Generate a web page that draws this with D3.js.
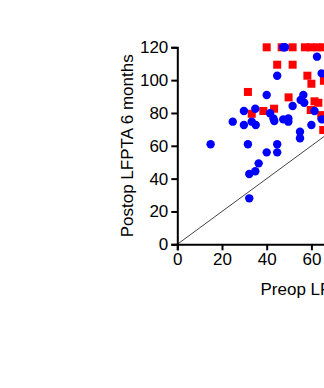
<!DOCTYPE html>
<html lang="en-US">
  <head>
    <meta charset="utf-8">
    <title>LFPTA preop vs postop</title>
    <style>
      body { margin: 0; background: white; overflow: hidden; }
      #my_dataviz text { font-family: Arial, "Liberation Sans", Helvetica, sans-serif; }
    </style>
  </head>
  <body>
  <script src="https://d3js.org/d3.v7.min.js"></script>
  <div id="my_dataviz"></div>
  <script>

    // data: [preop, postop 6 months]
    var redPoints = [
      [40,120],[46.7,120],[51.6,120],[57.1,120],[59.7,120],[62.6,120],[65.3,120],
      [44.7,109.4],[51.6,109.4],[58.2,102.7],[60,97.8],[65.6,99.6],
      [31.6,92.8],[49.8,89.5],[61.4,87.1],[63.1,86.2],
      [43.3,82.6],[38.5,81.2],[33.3,79.5],[59.7,81.8],[64.4,78.7],[65.3,69.6]
    ]
    var bluePoints = [
      [47.4,120],[48.2,120],[62.5,114.3],[64.6,104.1],[44.7,102.7],
      [40,90.9],[56.4,90.9],[55.2,87.9],[56.8,86.2],[51.6,84.2],
      [29.8,81.2],[34.9,82.6],[41.5,79.8],[33.3,74.7],[35.1,72.7],[29.8,72.7],[24.8,74.7],
      [43,76.7],[43.4,75.1],[47.4,76.1],[49.7,76.7],[49.7,74.7],
      [61.4,81.2],[64.6,76.1],[60,72.7],[54.9,68.6],[54.9,64.6],
      [14.9,60.9],[31.6,60.9],[44.7,60.9],[40,56],[44.7,56],
      [36.4,49.3],[34.9,44.5],[32.2,42.8],[32.2,28]
    ]
    var xTicks = [0, 20, 40, 60, 80, 100, 120]
    var yTicks = [0, 20, 40, 60, 80, 100, 120]
    var xTitle = "Preop LFPTA"
    var yTitle = "Postop LFPTA 6 months"

    var width = 324
        height = 388

    var svg = d3.select("#my_dataviz")
      .append("svg")
        .attr("width", width)
        .attr("height", height)

    // plot runs off the right side of the window, like the reference
    var x = d3.scaleLinear().domain([0, 120]).range([177.3, 445.5])
    var y = d3.scaleLinear().domain([0, 120]).range([244.3, 47.3])

    // identity line
    svg.append("line")
      .attr("x1", x(0)).attr("y1", y(0))
      .attr("x2", x(120)).attr("y2", y(120))
      .attr("stroke", "#444")
      .attr("stroke-width", 1)

    // axes
    var xAxis = svg.append("g")
      .attr("transform", "translate(0," + y(0) + ")")
      .call(d3.axisBottom(x).tickValues(xTicks).tickSize(6).tickPadding(3))
    var yAxis = svg.append("g")
      .attr("transform", "translate(" + x(0) + ",0)")
      .call(d3.axisLeft(y).tickValues(yTicks).tickSize(6).tickPadding(3))

    ;[xAxis, yAxis].forEach(function(a) {
      a.select(".domain").attr("stroke", "black").attr("stroke-width", 2)
      a.selectAll(".tick line").attr("stroke", "black").attr("stroke-width", 2)
      a.selectAll(".tick text").attr("fill", "black").style("font-size", "17px")
    })

    // red squares
    svg.append("g")
      .selectAll("rect")
      .data(redPoints)
      .enter()
      .append("rect")
        .attr("x", function(d) { return x(d[0]) - 4 })
        .attr("y", function(d) { return y(d[1]) - 4 })
        .attr("width", 8)
        .attr("height", 8)
        .attr("fill", "#ff0000")

    // blue circles
    svg.append("g")
      .selectAll("circle")
      .data(bluePoints)
      .enter()
      .append("circle")
        .attr("cx", function(d) { return x(d[0]) })
        .attr("cy", function(d) { return y(d[1]) })
        .attr("r", 4.2)
        .attr("fill", "#0000ff")

    // axis titles
    svg.append("text")
      .attr("x", (x(0) + x(120)) / 2)
      .attr("y", 295)
      .attr("text-anchor", "middle")
      .style("font-size", "17px")
      .text(xTitle)

    svg.append("text")
      .attr("transform", "translate(133," + (y(0) + y(120)) / 2 + ") rotate(-90)")
      .attr("text-anchor", "middle")
      .style("font-size", "17px")
      .text(yTitle)

  </script>
  </body>
</html>
